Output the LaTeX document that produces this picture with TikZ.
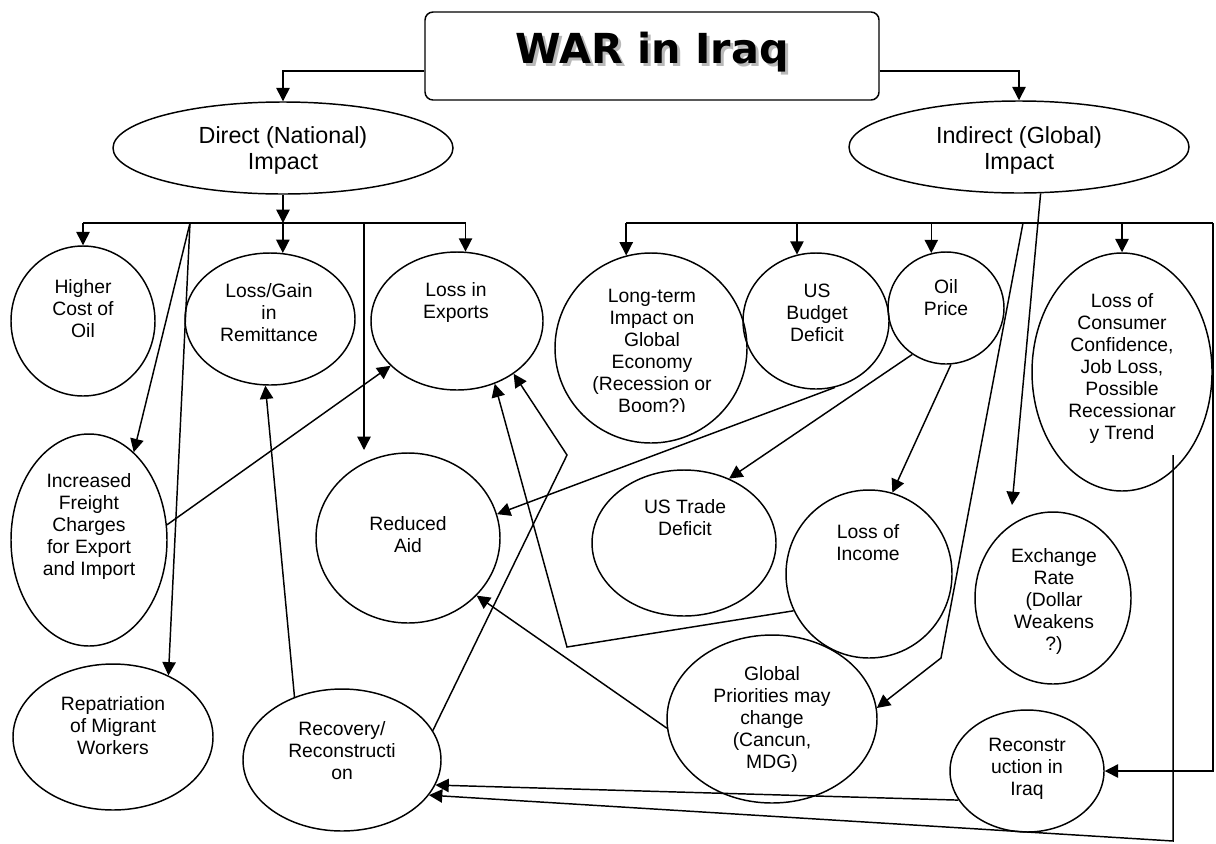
\documentclass[tikz,border=0pt]{standalone}
\usepackage{fontspec}
\setmainfont{Liberation Sans}
\newfontfamily\titlefont{DejaVu Sans}
\usetikzlibrary{arrows.meta, shapes.geometric}

\begin{document}
\begin{tikzpicture}[x = 0.75pt, y = -0.75pt, line width = 1.1pt,
	> = {Triangle[length = 10pt, width = 10pt]},
	bub/.style 2 args = {ellipse, draw, inner sep = 0pt, minimum width = #1*1.5pt, minimum height = #2*1.5pt},
	txt/.style = {align = center, font = \fontsize{14.5}{16.5}\selectfont},
	big/.style = {align = center, font = \fontsize{17.5}{19.5}\selectfont},
	head/.style = {anchor = base, font = \titlefont\bfseries\fontsize{31}{31}\selectfont}]

	\useasboundingbox (0, 0) rectangle (1216, 843);

	% Title

	\node [draw, rounded corners = 6pt, minimum width = 340.5pt, minimum height = 66pt] (war) at (652, 56) {};
	\node [head, gray!55] (war-shadow) at (655, 66) {WAR in Iraq};
	\node [head] (war-text) at (652, 63) {WAR in Iraq};

	% The two kinds of impact

	\node [bub = {170}{46}] (direct) at (283, 148) {};
	\node [big] (direct-text) at (283, 150) {Direct (National)\\Impact};
	\node [bub = {170}{46}] (indirect) at (1019, 147) {};
	\node [big] (indirect-text) at (1019, 150) {Indirect (Global)\\Impact};

	\draw [->] ([yshift = -11.25pt] war.west) -| (direct.north);
	\draw [->] ([yshift = -11.25pt] war.east) -| (indirect.north);

	% Direct effects

	\node [bub = {72}{75}] (hcost) at (83, 321) {};
	\node [txt] (hcost-text) at (83, 309) {Higher\\Cost of\\Oil};
	\node [bub = {85}{66}] (lgain) at (270, 319) {};
	\node [txt] (lgain-text) at (269, 313) {Loss/Gain\\in\\Remittance};
	\node [bub = {86}{69}] (lexp) at (457, 321) {};
	\node [txt] (lexp-text) at (456, 302) {Loss in\\Exports};
	\node [bub = {78}{106}] (freight) at (89, 540) {};
	\node [txt] (freight-text) at (89, 526) {Increased\\Freight\\Charges\\for Export\\and Import};
	\node [bub = {100}{73}] (repat) at (113, 737) {};
	\node [txt] (repat-text) at (113, 726) {Repatriation\\of Migrant\\Workers};
	\node [bub = {92}{85}] (raid) at (408, 538) {};
	\node [txt] (raid-text) at (408, 535) {Reduced\\Aid};
	\node [bub = {99}{71}] (recov) at (342, 760) {};
	\node [txt] (recov-text) at (342, 751) {Recovery/\\Reconstructi\\on};

	% Indirect effects

	\node [bub = {96}{95}] (ltime) at (651, 348) {};
	\begin{scope}
		\clip (551, 250) rectangle (750, 411);
		\node [txt] (ltime-text) at (652, 353) {Long-term\\Impact on\\Global\\Economy\\(Recession or\\Boom?)};
	\end{scope}
	\node [bub = {73}{68}] (budget) at (816, 321) {};
	\node [txt] (budget-text) at (817, 313) {US\\Budget\\Deficit};
	\node [bub = {58}{56}] (oil) at (946, 308) {};
	\node [txt] (oil-text) at (946, 298) {Oil\\Price};
	\node [bub = {90}{119}] (consumer) at (1122, 372) {};
	\node [txt] (consumer-text) at (1122, 369) {Loss of\\Consumer\\Confidence,\\Job Loss,\\Possible\\Recessionar\\y Trend};
	\node [bub = {92}{73}] (trade) at (684, 543) {};
	\node [txt] (trade-text) at (685, 518) {US Trade\\Deficit};
	\node [bub = {83}{84}] (income) at (869, 574) {};
	\node [txt] (income-text) at (868, 543) {Loss of\\Income};
	\node [bub = {78}{86}] (exch) at (1053, 598) {};
	\node [txt] (exch-text) at (1054, 601) {Exchange\\Rate\\(Dollar\\Weakens\\?)};
	\node [bub = {105}{84}] (global) at (772, 719) {};
	\node [txt] (global-text) at (772, 719) {Global\\Priorities may\\change\\(Cancun,\\MDG)};
	\node [bub = {77}{61}] (reciraq) at (1027, 771) {};
	\node [txt] (reciraq-text) at (1027, 769) {Reconstr\\uction in\\Iraq};

	% Direct bus

	\coordinate (dbus) at (283, 223);
	\coordinate (dfork) at (190, 223);
	\coordinate (aidtip) at (364, 450);

	\draw [->] (direct.south) -- (dbus);
	\draw (hcost.north |- dbus) -- (lexp.83 |- dbus);
	\draw [->] (hcost.north |- dbus) -- (hcost.north);
	\draw [->] (lgain.79 |- dbus) -- (lgain.79);
	\draw [->] (lexp.83 |- dbus) -- (lexp.83);
	\draw [->] (aidtip |- dbus) -- (aidtip);
	\draw [->] (dfork) -- (freight.63);
	\draw [->] (dfork) -- (repat.48);

	% Indirect bus

	\coordinate (ibus) at (1023, 223);
	\coordinate (ibusr) at (1213, 223);
	\coordinate (extip) at (1012, 505);
	\coordinate (gbend) at (941, 658);

	\draw (ltime.105 |- ibus) -- (ibusr);
	\draw [->] (ltime.105 |- ibus) -- (ltime.105);
	\draw [->] (budget.106 |- ibus) -- (budget.106);
	\draw [->] (oil.105 |- ibus) -- (oil.105);
	\draw [->] (consumer.north |- ibus) -- (consumer.north);
	\draw [->] (ibusr) |- (reciraq.east);
	\draw [->] (indirect.295) -- (extip);
	\draw [->] (ibus) -- (gbend) -- (global.6);

	% Cross links

	\coordinate (rbend) at (567, 455);
	\coordinate (ibend) at (567, 647);
	\coordinate (ctop) at (1173, 455);
	\coordinate (cbot) at (1173, 841);

	\draw [->] (oil.275) -- (income.74);
	\draw [->] (oil.234) -- (trade.55);
	\draw [->] (budget.286) -- (raid.15);
	\draw [->] (freight.11) -- (lexp.214);
	\draw [->] (recov.127) -- (lgain.266);
	\draw [->] (recov.18) -- (rbend) -- (lexp.317);
	\draw [->] (income.206) -- (ibend) -- (lexp.301);
	\draw [->] (global.185) -- (raid.320);
	\draw [->] (reciraq.203) -- (recov.345);
	\draw [->] (ctop) -- (cbot) -- (recov.338);

\end{tikzpicture}
\end{document}
